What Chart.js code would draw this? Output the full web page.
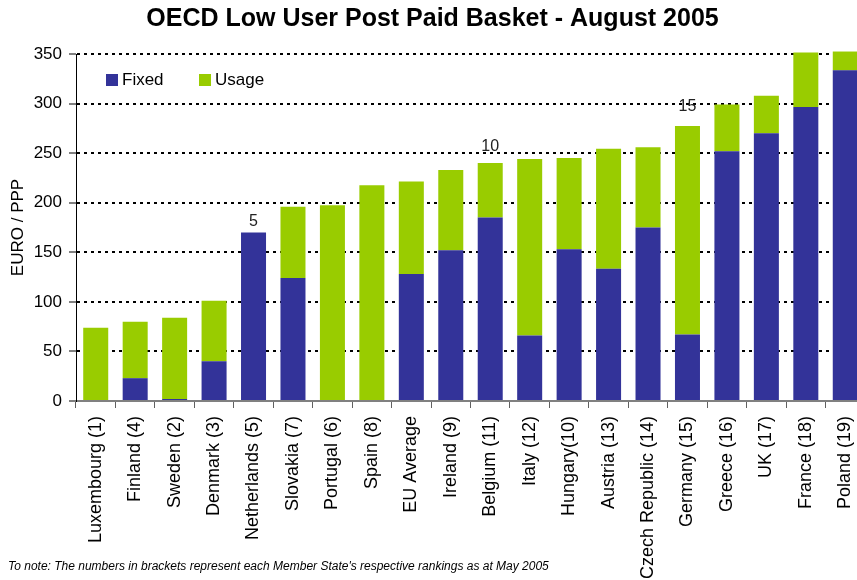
<!DOCTYPE html>
<html>
<head>
<meta charset="utf-8">
<script src="https://cdn.jsdelivr.net/npm/chart.js@4"></script>
<style>
  html, body { margin: 0; padding: 0; background: #fff; overflow: hidden; }
  #wrap { position: absolute; left: 0; top: 0; width: 866px; height: 580px; }
  #note {
    position: absolute; left: 8px; top: 559px;
    font: italic 12px Arial, "Liberation Sans", sans-serif; color: #000;
    white-space: nowrap;
  }
</style>
</head>
<body>
<div id="wrap"><canvas id="graph"></canvas></div>
<div id="note">To note: The numbers in brackets represent each Member State's respective rankings as at May 2005</div>
<script>
//////////////////////////////////////////////////////////
/* DATA */
const countries = [
  'Luxembourg (1)', 'Finland (4)', 'Sweden (2)', 'Denmark (3)', 'Netherlands (5)',
  'Slovakia (7)', 'Portugal (6)', 'Spain (8)', 'EU Average', 'Ireland (9)',
  'Belgium (11)', 'Italy (12)', 'Hungary(10)', 'Austria (13)', 'Czech Republic (14)',
  'Germany (15)', 'Greece (16)', 'UK (17)', 'France (18)', 'Poland (19)'
];
const fixed = [0, 23, 2, 40, 170, 124, 0, 0, 128, 152, 185, 66, 153, 133.5, 175, 67, 252, 270, 296.5, 333.5];
const usage = [74, 57, 82, 61, 0, 72, 197.5, 217.5, 93.5, 81, 55, 178, 92, 121, 81, 210.5, 47, 38, 55, 19];
const yTicks = [0, 50, 100, 150, 200, 250, 300, 350];

// rank markers written above some bars
const markers = [
  { category: 'Netherlands (5)', text: '5', value: 181 },
  { category: 'Belgium (11)', text: '10', value: 257 },
  { category: 'Germany (15)', text: '15', value: 297 }
];

const FONT = 'Arial, "Liberation Sans", sans-serif';

//---------------------------------------------
/* small plugins: legend inside the plot and the rank markers */
const insideLegend = {
  id: 'insideLegend',
  afterDraw(chart) {
    const ctx = chart.ctx;
    const pos = [106, 199];
    ctx.save();
    ctx.font = '17px ' + FONT;
    ctx.textBaseline = 'middle';
    chart.data.datasets.forEach((ds, i) => {
      ctx.fillStyle = ds.backgroundColor;
      ctx.fillRect(pos[i], 74, 12, 12);
      ctx.fillStyle = '#000';
      ctx.fillText(ds.label, pos[i] + 16, 80);
    });
    ctx.restore();
  }
};

const rankMarkers = {
  id: 'rankMarkers',
  afterDatasetsDraw(chart) {
    const ctx = chart.ctx;
    const x = chart.scales.x, y = chart.scales.y;
    ctx.save();
    ctx.font = '16px ' + FONT;
    ctx.fillStyle = '#222';
    ctx.textAlign = 'center';
    ctx.textBaseline = 'middle';
    markers.forEach(m => {
      ctx.fillText(m.text, x.getPixelForValue(countries.indexOf(m.category)), y.getPixelForValue(m.value));
    });
    ctx.restore();
  }
};

//---------------------------------------------
const cfgBar = {
  type: 'bar',
  data: {
    labels: countries,
    datasets: [
      { label: 'Fixed', data: fixed, backgroundColor: '#333399', clip: false },
      { label: 'Usage', data: usage, backgroundColor: '#99CC00', clip: false }
    ]
  },
  options: {
    responsive: true,
    maintainAspectRatio: false,
    animation: false,
    barPercentage: 0.634,
    categoryPercentage: 1,
    layout: { padding: { left: 0, top: 0, bottom: 0, right: 1 } },
    plugins: {
      legend: { display: false },
      tooltip: { enabled: false },
      title: {
        display: true,
        text: 'OECD Low User Post Paid Basket - August 2005',
        color: '#000',
        font: { family: FONT, size: 25, weight: 'bold', lineHeight: 1.2 },
        padding: { top: 4, bottom: 20 }
      }
    },
    scales: {
      x: {
        stacked: true,
        afterFit(scale) {
          scale.height = 179;
          scale.paddingLeft = 0;
          scale.paddingRight = 0;
        },
        grid: { drawOnChartArea: false, drawTicks: true, tickLength: 7, color: '#808080', tickColor: '#606060', tickWidth: 1 },
        border: { color: '#808080', width: 2 },
        ticks: {
          autoSkip: false, minRotation: 90, maxRotation: 90, padding: 8,
          color: '#000', font: { family: FONT, size: 18 }
        }
      },
      y: {
        stacked: true,
        min: 0,
        max: 350,
        afterFit(scale) { scale.width = 76; },
        afterBuildTicks(scale) { scale.ticks = yTicks.map(v => ({ value: v })); },
        grid: {
          color: c => c.tick && c.tick.value === 0 ? 'rgba(0,0,0,0)' : '#000',
          lineWidth: 2,
          tickLength: 7,
          tickColor: '#000',
          tickWidth: 1,
          tickBorderDash: []
        },
        border: { color: '#000', width: 1, dash: [3, 4] },
        ticks: { padding: 7, color: '#000', font: { family: FONT, size: 17 } },
        title: {
          display: true,
          text: 'EURO / PPP',
          color: '#000',
          font: { family: FONT, size: 17 },
          padding: { top: 8, bottom: 0 }
        }
      }
    }
  },
  plugins: [insideLegend, rankMarkers]
};

////////////////////////////////////////////////////////
/* DRAWING THE GRAPH */
new Chart(document.getElementById('graph'), cfgBar);
</script>
</body>
</html>
